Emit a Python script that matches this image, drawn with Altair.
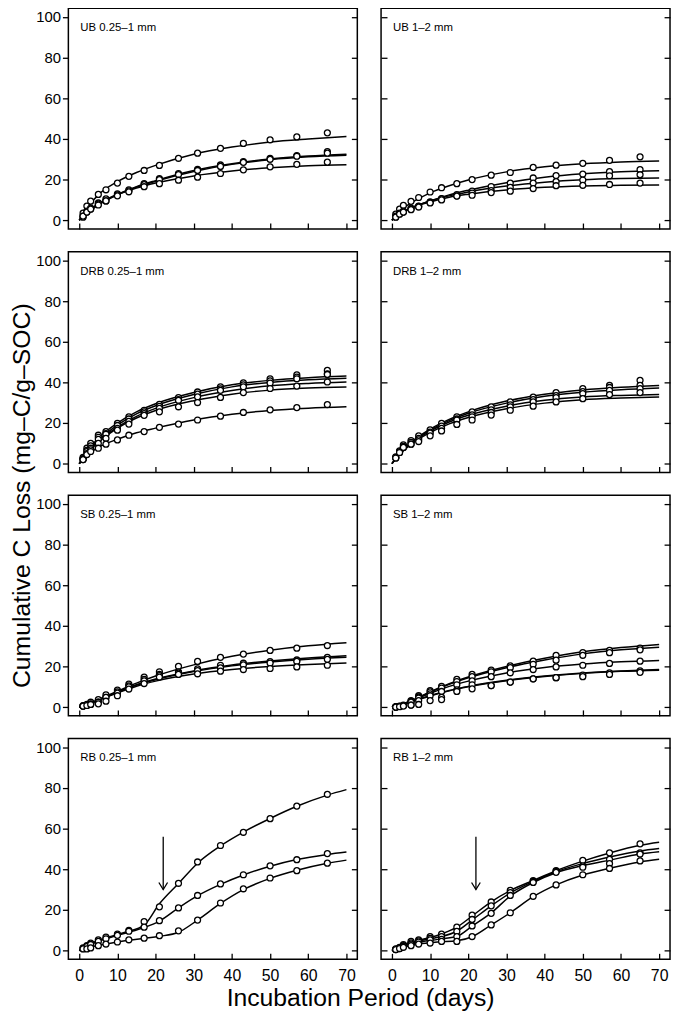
import altair as alt
import pandas as pd

FONT = "Liberation Sans"

DAYS = [1, 2, 3, 5, 7, 10, 13, 17, 21, 26, 31, 37, 43, 50, 57, 65]
FIT_DAYS = [0, 2, 5, 10, 15, 20, 30, 40, 50, 60, 70]
RB_FIT_DAYS = [0, 1, 3, 7, 12, 17, 21, 26, 31, 37, 43, 50, 57, 65, 70]
Y_TICKS = [0, 20, 40, 60, 80, 100]
X_TICKS = [0, 10, 20, 30, 40, 50, 60, 70]

PANEL_LABELS = ["UB 0.25–1 mm", "UB 1–2 mm", "DRB 0.25–1 mm", "DRB 1–2 mm",
                "SB 0.25–1 mm", "SB 1–2 mm", "RB 0.25–1 mm", "RB 1–2 mm"]

# arrow (rewetting) marker in RB panels
ARROW_DAY = [22]
ARROW_TOP = [56]
ARROW_TIP = [30]

UB_FINE_PTS = [
    [3.5, 7.0, 9.4, 12.7, 15.0, 18.3, 21.6, 24.5, 27.0, 30.5, 33.0, 35.4, 37.8, 39.6, 41.0, 43.0],
    [2.0, 4.5, 6.0, 8.5, 10.5, 13.0, 15.0, 18.0, 20.5, 23.0, 25.0, 27.2, 28.8, 30.5, 31.8, 33.8],
    [1.5, 4.0, 5.5, 8.0, 9.5, 12.5, 14.5, 17.5, 20.0, 22.5, 24.5, 26.5, 28.5, 30.0, 31.5, 33.0],
    [2.0, 4.0, 5.5, 7.5, 9.5, 12.0, 14.0, 16.5, 18.0, 19.7, 21.2, 23.0, 24.8, 26.3, 27.5, 28.6],
]
UB_FINE_FIT = [
    [0, 6.0, 12.5, 19.0, 23.5, 27.0, 32.5, 36.0, 38.5, 40.0, 41.2],
    [0, 3.5, 7.5, 12.5, 16.5, 19.5, 24.5, 27.8, 30.2, 31.6, 32.5],
    [0, 4.0, 8.0, 12.8, 16.3, 19.2, 24.0, 27.5, 29.8, 31.2, 32.0],
    [0, 4.0, 8.0, 12.5, 15.8, 18.3, 21.8, 24.2, 25.8, 26.8, 27.3],
]

UB_COARSE_PTS = [
    [3.0, 5.5, 7.3, 9.3, 11.2, 13.9, 16.0, 18.0, 20.0, 22.2, 23.5, 26.0, 27.1, 28.0, 29.5, 31.2],
    [2.0, 3.5, 4.5, 6.0, 7.0, 9.0, 10.7, 12.6, 14.3, 16.6, 18.3, 20.8, 22.0, 22.7, 23.9, 24.9],
    [1.6, 3.2, 4.0, 5.5, 6.8, 8.8, 10.5, 12.0, 13.4, 14.6, 16.2, 18.3, 19.0, 19.8, 21.9, 22.4],
    [1.5, 3.0, 4.0, 5.2, 6.5, 8.5, 10.0, 11.9, 12.3, 13.6, 14.3, 15.6, 17.0, 17.2, 17.6, 18.3],
]
UB_COARSE_FIT = [
    [0, 4.5, 8.5, 13.5, 17.0, 19.8, 23.8, 26.3, 27.8, 28.7, 29.2],
    [0, 3.0, 6.0, 9.5, 12.5, 14.8, 18.5, 21.2, 22.9, 23.9, 24.4],
    [0, 3.0, 6.0, 9.5, 12.0, 13.9, 16.8, 18.7, 19.9, 20.5, 20.8],
    [0, 3.0, 6.0, 9.0, 11.3, 12.8, 14.9, 16.2, 16.9, 17.2, 17.4],
]

DRB_FINE_PTS = [
    [3.1, 7.6, 10.0, 14.0, 15.8, 19.8, 23.0, 26.3, 29.2, 32.5, 35.3, 37.8, 39.8, 41.8, 43.7, 45.9],
    [2.5, 6.5, 8.8, 13.0, 14.8, 18.8, 22.0, 25.5, 28.2, 31.5, 34.2, 36.8, 38.8, 40.8, 42.6, 44.2],
    [2.2, 6.0, 7.6, 12.0, 14.5, 17.4, 20.8, 24.6, 27.2, 31.2, 32.9, 36.1, 37.8, 39.7, 41.8, 43.9],
    [2.0, 5.0, 6.8, 10.0, 12.5, 16.5, 19.5, 23.8, 25.5, 28.0, 30.1, 32.6, 35.0, 37.0, 38.2, 40.2],
    [2.0, 4.5, 6.0, 7.6, 9.6, 11.7, 14.0, 15.8, 17.9, 19.5, 21.5, 23.4, 25.2, 26.5, 27.6, 29.1],
]
DRB_FINE_FIT = [
    [0, 6.0, 12.5, 20.0, 25.5, 29.5, 35.0, 38.8, 41.0, 42.3, 43.1],
    [0, 5.5, 11.5, 19.0, 24.5, 28.5, 34.0, 37.8, 40.0, 41.3, 42.1],
    [0, 5.0, 11.0, 18.0, 23.3, 27.2, 32.5, 36.0, 38.3, 39.5, 40.2],
    [0, 5.0, 10.5, 17.5, 22.5, 26.2, 31.0, 34.2, 36.2, 37.2, 37.7],
    [0, 4.0, 8.0, 12.0, 15.2, 17.5, 21.5, 24.3, 26.2, 27.3, 28.0],
]

DRB_COARSE_PTS = [
    [3.3, 6.3, 9.3, 11.4, 13.7, 16.6, 19.8, 23.1, 25.5, 28.0, 30.4, 32.8, 35.0, 36.9, 38.5, 41.0],
    [3.0, 6.0, 8.5, 10.5, 12.5, 15.5, 18.5, 22.0, 24.0, 26.5, 29.0, 31.5, 33.5, 35.5, 37.5, 38.5],
    [2.8, 5.5, 8.0, 9.6, 11.7, 15.0, 17.4, 21.5, 23.1, 25.2, 28.0, 30.4, 32.5, 34.5, 36.1, 36.9],
    [2.8, 5.5, 8.0, 9.6, 10.9, 13.7, 16.1, 19.3, 21.5, 23.9, 26.3, 28.3, 30.4, 32.0, 34.0, 35.0],
]
DRB_COARSE_FIT = [
    [0, 5.0, 10.5, 17.0, 21.8, 25.5, 30.8, 34.2, 36.3, 37.6, 38.5],
    [0, 5.0, 10.2, 16.5, 21.2, 24.8, 29.8, 33.2, 35.2, 36.4, 37.2],
    [0, 4.8, 10.0, 16.0, 20.5, 23.8, 28.3, 31.2, 32.8, 33.6, 34.1],
    [0, 4.5, 9.5, 15.3, 19.6, 22.7, 27.0, 29.8, 31.5, 32.3, 32.8],
]

SB_FINE_PTS = [
    [0.8, 1.3, 2.4, 3.7, 6.0, 8.4, 11.3, 14.8, 17.4, 20.1, 22.5, 24.5, 26.1, 27.9, 29.0, 30.3],
    [0.5, 1.0, 1.6, 2.4, 4.8, 7.5, 10.5, 13.7, 16.1, 17.4, 18.8, 20.6, 21.6, 22.4, 23.2, 24.5],
    [0.5, 0.8, 1.3, 2.4, 4.8, 6.9, 10.0, 12.9, 15.5, 16.8, 18.0, 19.3, 20.8, 21.7, 22.5, 23.5],
    [0.5, 0.8, 1.3, 1.6, 2.9, 5.6, 8.9, 11.6, 14.8, 16.1, 16.4, 17.7, 18.5, 19.0, 19.8, 20.6],
]
SB_FINE_FIT = [
    [0, 1.3, 3.7, 7.8, 11.8, 15.3, 20.8, 25.0, 28.0, 30.2, 31.7],
    [0, 1.3, 3.5, 7.5, 11.0, 13.8, 17.8, 20.7, 22.7, 24.2, 25.3],
    [0, 1.3, 3.5, 7.3, 10.8, 13.5, 17.5, 20.3, 22.2, 23.6, 24.5],
    [0, 1.2, 3.3, 7.0, 10.3, 12.8, 16.3, 18.5, 20.0, 21.0, 21.7],
]

SB_COARSE_PTS = [
    [0.2, 0.5, 1.0, 3.2, 5.6, 8.1, 10.2, 13.7, 16.1, 18.2, 20.3, 22.6, 25.5, 26.8, 27.9, 29.0],
    [0.1, 0.4, 0.8, 2.8, 5.0, 7.5, 9.4, 12.6, 15.0, 17.4, 19.4, 21.1, 23.1, 25.5, 26.8, 28.2],
    [0.0, 0.3, 0.8, 2.5, 4.5, 6.5, 7.7, 11.0, 12.9, 15.0, 16.9, 18.5, 19.8, 20.6, 21.5, 22.6],
    [0.0, 0.3, 0.8, 1.0, 3.2, 5.6, 4.8, 8.5, 11.0, 10.6, 12.3, 13.9, 14.5, 15.8, 16.9, 17.9],
    [0.0, 0.2, 0.5, 1.0, 1.3, 3.2, 3.7, 7.7, 9.0, 10.6, 12.3, 13.9, 14.5, 15.0, 16.1, 17.1],
]
SB_COARSE_FIT = [
    [0, 1.0, 3.0, 7.5, 11.5, 14.8, 20.0, 24.0, 27.2, 29.3, 30.8],
    [0, 1.0, 3.0, 7.3, 11.2, 14.4, 19.4, 23.2, 26.2, 28.2, 29.5],
    [0, 1.0, 3.0, 6.8, 10.2, 12.8, 16.8, 19.5, 21.2, 22.3, 23.0],
    [0, 0.9, 2.7, 5.7, 8.2, 10.2, 13.2, 15.3, 16.8, 17.8, 18.5],
    [0, 0.8, 2.5, 5.5, 8.0, 10.0, 13.0, 15.1, 16.6, 17.6, 18.2],
]

RB_FINE_PTS = [
    [1.3, 2.4, 3.7, 5.3, 6.6, 8.1, 9.9, 14.2, 21.5, 33.1, 43.6, 51.7, 58.2, 64.9, 71.1, 76.9],
    [1.0, 2.0, 3.0, 4.5, 5.8, 7.5, 9.5, 11.5, 14.7, 21.0, 27.1, 32.8, 37.3, 41.7, 44.7, 47.7],
    [0.8, 0.8, 1.3, 2.4, 3.2, 4.2, 5.3, 6.1, 7.3, 9.7, 15.0, 23.4, 30.4, 35.7, 39.3, 43.0],
]
RB_FINE_FIT = [
    [0, 1.5, 3.5, 6.2, 9.0, 12.5, 23.0, 33.0, 43.0, 51.5, 58.3, 65.0, 71.0, 76.5, 79.2],
    [0, 1.2, 3.0, 5.8, 8.5, 11.3, 14.5, 21.0, 27.0, 32.6, 37.2, 41.5, 44.8, 47.3, 48.5],
    [0, 0.8, 1.8, 3.2, 4.8, 6.0, 7.0, 9.0, 15.0, 23.2, 30.0, 35.5, 39.5, 43.0, 44.5],
]

RB_COARSE_PTS = [
    [0.8, 1.6, 2.9, 4.5, 5.3, 6.9, 8.1, 11.5, 17.4, 23.9, 29.6, 34.4, 39.3, 44.4, 48.1, 52.5],
    [0.6, 1.3, 2.4, 3.8, 4.8, 6.0, 6.9, 9.4, 15.3, 22.0, 28.5, 34.0, 39.0, 41.7, 44.9, 48.1],
    [0.5, 1.0, 2.0, 3.2, 4.2, 5.3, 5.5, 6.9, 12.1, 18.3, 27.1, 33.5, 38.5, 41.0, 42.8, 47.5],
    [0.5, 1.0, 1.6, 2.4, 3.2, 3.7, 4.5, 4.5, 6.9, 12.6, 18.6, 26.7, 32.3, 37.3, 40.4, 44.1],
]
RB_COARSE_FIT = [
    [0, 1.0, 2.8, 5.0, 7.5, 11.5, 17.0, 24.0, 29.5, 34.5, 39.3, 44.0, 48.0, 51.8, 53.3],
    [0, 0.8, 2.4, 4.6, 6.5, 9.5, 15.0, 22.0, 28.3, 34.0, 38.8, 42.8, 46.0, 49.0, 50.2],
    [0, 0.7, 2.0, 4.0, 5.5, 7.0, 12.0, 18.5, 26.8, 33.5, 38.3, 41.8, 44.5, 47.5, 48.6],
    [0, 0.6, 1.6, 3.2, 4.2, 4.8, 6.8, 12.6, 18.6, 26.5, 32.3, 37.2, 40.5, 43.6, 44.9],
]

PANELS = [
    (UB_FINE_PTS, FIT_DAYS, UB_FINE_FIT, False),
    (UB_COARSE_PTS, FIT_DAYS, UB_COARSE_FIT, False),
    (DRB_FINE_PTS, FIT_DAYS, DRB_FINE_FIT, False),
    (DRB_COARSE_PTS, FIT_DAYS, DRB_COARSE_FIT, False),
    (SB_FINE_PTS, FIT_DAYS, SB_FINE_FIT, False),
    (SB_COARSE_PTS, FIT_DAYS, SB_COARSE_FIT, False),
    (RB_FINE_PTS, RB_FIT_DAYS, RB_FINE_FIT, True),
    (RB_COARSE_PTS, RB_FIT_DAYS, RB_COARSE_FIT, True),
]

W, H = 292, 223
XS = alt.Scale(domain=[-2.85, 72.85], nice=False, zero=False)
YS = alt.Scale(domain=[-4.3, 104.3], nice=False, zero=False)


def make_panel(idx):
    pts, fdays, fits, arrow = PANELS[idx]
    label = PANEL_LABELS[idx]
    left_col = idx % 2 == 0
    bottom_row = idx >= 6

    pdf = pd.DataFrame([{"series": i, "day": d, "value": v}
                        for i, s in enumerate(pts) for d, v in zip(DAYS, s)])
    fdf = pd.DataFrame([{"series": i, "day": d, "value": v}
                        for i, s in enumerate(fits) for d, v in zip(fdays, s)])

    # inward x ticks (no labels)
    x_tick_axis = alt.Axis(values=X_TICKS, orient="bottom", offset=-6, tickSize=6,
                           labels=False, title=None, domain=False, grid=False)
    # x labels only (bottom row)
    x_label_axis = alt.Axis(values=X_TICKS, orient="bottom", ticks=False, tickSize=0,
                            labels=True, labelPadding=8, labelFontSize=16,
                            labelColor="black", labelFont=FONT,
                            title=None, domain=False, grid=False)
    if left_col:
        yl_axis = alt.Axis(values=Y_TICKS, orient="left", tickSize=6, labelPadding=2,
                           labelFontSize=15, title=None, domain=False, grid=False)
    else:
        yl_axis = alt.Axis(values=Y_TICKS, orient="left", offset=-6, tickSize=6,
                           labels=False, title=None, domain=False, grid=False)
    yr_axis = alt.Axis(values=Y_TICKS, orient="right", offset=-6, tickSize=6,
                       labels=False, title=None, domain=False, grid=False)

    lines = alt.Chart(fdf).mark_line(color="black", strokeWidth=1.5,
                                     interpolate="monotone").encode(
        x=alt.X("day:Q", scale=XS, axis=x_tick_axis),
        y=alt.Y("value:Q", scale=YS, axis=yl_axis),
        detail="series:N",
    )
    right = alt.Chart(fdf).mark_line(opacity=0).encode(
        x=alt.X("day:Q", scale=XS, axis=x_label_axis if bottom_row else None),
        y=alt.Y("value:Q", scale=YS, axis=yr_axis),
        detail="series:N",
    )
    points = alt.Chart(pdf).mark_point(shape="circle", filled=True, fill="white",
                                       stroke="black", strokeWidth=1.3, size=36,
                                       opacity=1).encode(
        x=alt.X("day:Q", scale=XS, axis=None),
        y=alt.Y("value:Q", scale=YS, axis=None),
    )
    text = alt.Chart(pd.DataFrame({"label": [label]})).mark_text(
        align="left", baseline="alphabetic", font=FONT, fontSize=11.5, color="black"
    ).encode(text="label:N", x=alt.value(12), y=alt.value(23))

    layers = [lines, right, points, text]
    if arrow:
        adf = pd.DataFrame({"day": ARROW_DAY, "top": ARROW_TOP, "tip": ARROW_TIP})
        rule = alt.Chart(adf).mark_rule(color="black", strokeWidth=1.3).encode(
            x=alt.X("day:Q", scale=XS, axis=None),
            y=alt.Y("top:Q", scale=YS, axis=None),
            y2="tip:Q",
        )
        head = alt.Chart(adf).mark_point(shape="M-0.55,-0.9L0,0L0.55,-0.9", filled=False,
                                         stroke="black", strokeWidth=1.3, size=256,
                                         opacity=1).encode(
            x=alt.X("day:Q", scale=XS, axis=None),
            y=alt.Y("tip:Q", scale=YS, axis=None),
        )
        layers += [rule, head]
    return alt.layer(*layers).resolve_axis(x="independent", y="independent").properties(
        width=W, height=H)


rows = [alt.hconcat(make_panel(2 * r), make_panel(2 * r + 1), spacing=20) for r in range(4)]
grid = alt.vconcat(*rows, spacing=20).properties(
    title=alt.TitleParams("Cumulative C Loss (mg–C/g–SOC)", orient="left", anchor="middle",
                          fontSize=25, font=FONT, fontWeight="normal", color="black", offset=0)
)
chart = alt.vconcat(grid).properties(
    title=alt.TitleParams("Incubation Period (days)", orient="bottom", anchor="middle",
                          fontSize=25, font=FONT, fontWeight="normal", color="black",
                          offset=2, dx=20),
    padding={"left": 2, "top": -6, "right": 0, "bottom": 0},
).configure_view(stroke="black", strokeWidth=1.5).configure_axis(
    tickColor="black", tickWidth=1.3, labelColor="black", labelFont=FONT
)

chart.save("out.html", embed_options={"renderer": "svg", "actions": False})
